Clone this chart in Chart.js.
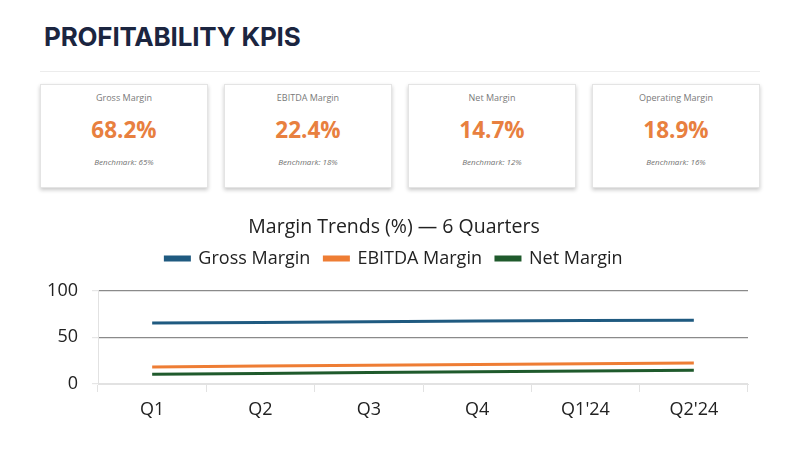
<!DOCTYPE html>
<html>
<head>
<meta charset="utf-8">
<script src="https://cdn.jsdelivr.net/npm/chart.js@4"></script>
<style>
	html, body { margin: 0; padding: 0; background: #fff; }
	body { width: 800px; height: 450px; position: relative; overflow: hidden; font-family: "Open Sans", "Noto Sans", sans-serif; }
	.title { position: absolute; left: 44px; top: 21px; font: 700 26px "Inter", "Liberation Sans", sans-serif; color: #1b2540; letter-spacing: -0.2px; }
	.rule { position: absolute; left: 40px; top: 71px; width: 720px; height: 1px; background: #ececec; }
	.card { position: absolute; top: 84px; width: 168px; height: 104px; background: #fff; border: 1px solid #e4e4e4; box-shadow: 0 2px 4px rgba(0,0,0,0.22); box-sizing: border-box; text-align: center; }
	.card .lbl { position: absolute; left: 0; right: 0; top: 6px; font-size: 9px; color: #7a7a7a; }
	.card .val { position: absolute; left: 0; right: 0; top: 29px; font: 700 22.5px "Open Sans", sans-serif; color: #e8803f; }
	.card .bm { position: absolute; left: 0; right: 0; top: 71px; font-size: 8px; font-style: italic; color: #6f6f6f; }
	#wrap { position: absolute; left: 0; top: 205px; width: 800px; height: 245px; }
</style>
</head>
<body>
<div class="title">PROFITABILITY KPIS</div>
<div class="rule"></div>
<div id="cards"></div>
<div id="wrap"><canvas id="chart"></canvas></div>
<script>
// KPI cards
const kpiNames = [`Gross Margin`, `EBITDA Margin`, `Net Margin`, `Operating Margin`];
const kpiValues = [`68.2%`, `22.4%`, `14.7%`, `18.9%`];
const kpiBenchmarks = [`65%`, `18%`, `12%`, `16%`];

// trend chart
const quarters = [`Q1`, `Q2`, `Q3`, `Q4`, `Q1'24`, `Q2'24`];
const grossMargin = [65.1, 65.8, 66.5, 67.3, 67.9, 68.2];
const ebitdaMargin = [18.2, 19.1, 20.0, 20.8, 21.6, 22.4];
const netMargin = [10.5, 11.3, 12.2, 13.0, 13.9, 14.7];
const yTicks = [0, 50, 100];

const cardBox = document.getElementById(`cards`);
kpiNames.forEach((name, i) => {
	const card = document.createElement(`div`);
	card.className = `card`;
	card.style.left = (40 + i * 184) + `px`;
	card.innerHTML = `<div class="lbl">${name}</div><div class="val">${kpiValues[i]}</div><div class="bm">Benchmark: ${kpiBenchmarks[i]}</div>`;
	cardBox.appendChild(card);
});

const font = `"Open Sans", "Noto Sans", sans-serif`;
const line = (label, data, color) => ({
	label,
	data,
	borderColor: color,
	backgroundColor: color,
	borderWidth: 3,
	pointRadius: 0,
	tension: 0,
});

// extra room under the legend so the plot starts lower
const legendGap = {
	id: `legendGap`,
	beforeInit(chart) {
		const fit = chart.legend.fit;
		chart.legend.fit = function () {
			fit.call(this);
			this.height += 13;
		};
	},
};

new Chart(document.getElementById(`chart`), {
	type: `line`,
	data: {
		labels: quarters,
		datasets: [
			line(`Gross Margin`, grossMargin, `#1f5a80`),
			line(`EBITDA Margin`, ebitdaMargin, `#ee7d34`),
			line(`Net Margin`, netMargin, `#1f5a2c`),
		],
	},
	plugins: [legendGap],
	options: {
		responsive: true,
		maintainAspectRatio: false,
		animation: false,
		layout: { padding: { left: 40, right: 52, top: 0, bottom: 20 } },
		plugins: {
			title: {
				display: true,
				text: `Margin Trends (%) — 6 Quarters`,
				color: `#222`,
				font: { family: font, size: 19.5, weight: `normal` },
				padding: { top: 11, bottom: -4 },
			},
			legend: {
				labels: {
					color: `#222`,
					font: { family: font, size: 18 },
					boxWidth: 24,
					boxHeight: 3,
					padding: 14,
				},
			},
			tooltip: { enabled: false },
		},
		scales: {
			x: {
				offset: true,
				grid: {
					offset: true,
					drawOnChartArea: false,
					color: `#e2e2e2`,
					tickLength: 8,
				},
				border: { color: `#e2e2e2` },
				ticks: { color: `#222`, font: { family: font, size: 18 }, padding: 7 },
				afterFit: (axis) => { axis.height = 46; },
			},
			y: {
				min: 0,
				max: 100,
				afterBuildTicks: (axis) => { axis.ticks = yTicks.map((v) => ({ value: v })); },
				grid: {
					color: (ctx) => (ctx.tick && ctx.tick.value === 0 ? `#e2e2e2` : `#8a8a8a`),
					tickColor: `#e6e6e6`,
					tickLength: 6,
					lineWidth: 1.2,
				},
				border: { color: `#e2e2e2` },
				ticks: { color: `#222`, font: { family: font, size: 18 }, padding: 14 },
				afterFit: (axis) => { axis.width = 58; },
			},
		},
	},
});
</script>
</body>
</html>
